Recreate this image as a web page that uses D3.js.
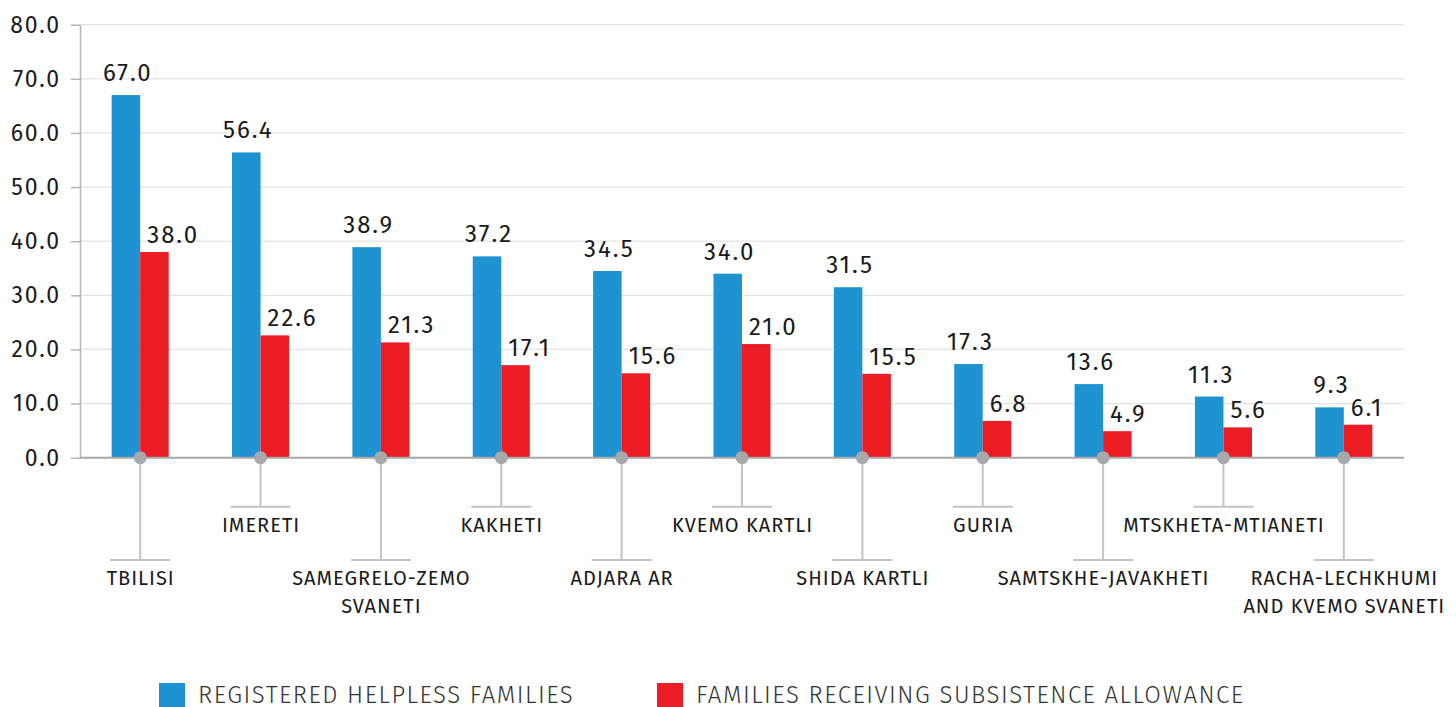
<!DOCTYPE html>
<html>
<head>
<meta charset="utf-8">
<script src="https://cdn.jsdelivr.net/npm/d3@7"></script>
<style>
  html, body { margin: 0; padding: 0; background: #fff; }
  svg { display: block; font-family: "Fira Sans", "Open Sans", sans-serif; }
  .grid line { stroke: #e3e3e3; stroke-width: 1.2; }
  .y-axis path, .y-axis line { stroke: #b5b5b5; stroke-width: 1.5; }
  .y-axis text { fill: #1a1a1a; font-size: 23px; letter-spacing: 1.8px; }
  .value { fill: #1a1a1a; font-size: 24px; letter-spacing: 2px; }
  .cat { fill: #1a1a1a; font-size: 20px; letter-spacing: 1px; }
  .leader { stroke: #c4c4c4; stroke-width: 2; fill: none; }
  .legend text { fill: #333; font-size: 24px; font-weight: 300; letter-spacing: 1.5px; }
</style>
</head>
<body>
<svg id="chart" width="1456" height="707"></svg>
<script>
// regions, in the order shown on the chart
const regions = [
  ["TBILISI"],
  ["IMERETI"],
  ["SAMEGRELO-ZEMO", "SVANETI"],
  ["KAKHETI"],
  ["ADJARA AR"],
  ["KVEMO KARTLI"],
  ["SHIDA KARTLI"],
  ["GURIA"],
  ["SAMTSKHE-JAVAKHETI"],
  ["MTSKHETA-MTIANETI"],
  ["RACHA-LECHKHUMI", "AND KVEMO SVANETI"]
];
const registered = [67.0, 56.4, 38.9, 37.2, 34.5, 34.0, 31.5, 17.3, 13.6, 11.3, 9.3];
const allowance = [38.0, 22.6, 21.3, 17.1, 15.6, 21.0, 15.5, 6.8, 4.9, 5.6, 6.1];
const yTicks = [0, 10, 20, 30, 40, 50, 60, 70, 80];
const seriesNames = ["REGISTERED HELPLESS FAMILIES", "FAMILIES RECEIVING SUBSISTENCE ALLOWANCE"];

const BLUE = "#1f93d2";
const RED = "#ec1c24";

const svg = d3.select("#chart");
const plotLeft = 80, plotRight = 1404, plotTop = 24.7, base = 457.7;

const x = d3.scaleBand().domain(d3.range(regions.length)).range([plotLeft, plotRight]);
const y = d3.scaleLinear().domain([0, 80]).range([base, plotTop]);
const barW = x.step() * 0.237;
const cx = (i) => x(i) + x.bandwidth() / 2;

// gridlines
svg.append("g")
  .attr("class", "grid")
  .selectAll("line")
  .data(yTicks.slice(1))
  .join("line")
  .attr("x1", plotLeft).attr("x2", plotRight)
  .attr("y1", (d) => y(d)).attr("y2", (d) => y(d));

// y axis
const yAxis = svg.append("g")
  .attr("class", "y-axis")
  .attr("transform", `translate(${plotLeft},0)`)
  .call(d3.axisLeft(y).tickValues(yTicks).tickSize(9).tickSizeOuter(0).tickPadding(10)
    .tickFormat(d3.format(".1f")));
yAxis.attr("font-family", null).attr("font-size", null);

// bars
const groups = svg.append("g").selectAll("g")
  .data(regions)
  .join("g");

groups.append("rect")
  .attr("x", (d, i) => cx(i) - barW)
  .attr("y", (d, i) => y(registered[i]))
  .attr("width", barW)
  .attr("height", (d, i) => base - y(registered[i]))
  .attr("fill", BLUE);

groups.append("rect")
  .attr("x", (d, i) => cx(i))
  .attr("y", (d, i) => y(allowance[i]))
  .attr("width", barW)
  .attr("height", (d, i) => base - y(allowance[i]))
  .attr("fill", RED);

// value labels
groups.append("text")
  .attr("class", "value")
  .attr("x", (d, i) => cx(i) - barW / 2 + 2)
  .attr("y", (d, i) => y(registered[i]) - 14)
  .attr("text-anchor", "middle")
  .text((d, i) => registered[i].toFixed(1));

groups.append("text")
  .attr("class", "value")
  .attr("x", (d, i) => cx(i) + 7)
  .attr("y", (d, i) => y(allowance[i]) - 9)
  .attr("text-anchor", "start")
  .text((d, i) => allowance[i].toFixed(1));

// baseline
svg.append("line")
  .attr("x1", plotLeft).attr("x2", plotRight)
  .attr("y1", base).attr("y2", base)
  .attr("stroke", "#a8a8a8").attr("stroke-width", 2);

// leader lines with alternating drop
const dropY = (i) => (i % 2 === 0 ? 560 : 506.7);

groups.append("path")
  .attr("class", "leader")
  .attr("d", (d, i) => `M${cx(i)},${base}V${dropY(i)}M${cx(i) - 30},${dropY(i)}H${cx(i) + 30}`);

groups.append("circle")
  .attr("cx", (d, i) => cx(i))
  .attr("cy", base)
  .attr("r", 6.5)
  .attr("fill", "#a7a9ac");

groups.append("text")
  .attr("class", "cat")
  .attr("text-anchor", "middle")
  .attr("y", (d, i) => dropY(i) + 25)
  .selectAll("tspan")
  .data((d, i) => d.map((t) => ({ t, i })))
  .join("tspan")
  .attr("x", (d) => cx(d.i) + 0.5)
  .attr("dy", (d, j) => (j === 0 ? 0 : 28))
  .text((d) => d.t);

// legend
const legend = svg.append("g").attr("class", "legend");
const legendX = [159, 657];
const legendColors = [BLUE, RED];
seriesNames.forEach((name, k) => {
  legend.append("rect")
    .attr("x", legendX[k]).attr("y", 683)
    .attr("width", 26).attr("height", 26)
    .attr("fill", legendColors[k]);
  legend.append("text")
    .attr("x", legendX[k] + 39).attr("y", 703)
    .text(name);
});
</script>
</body>
</html>
